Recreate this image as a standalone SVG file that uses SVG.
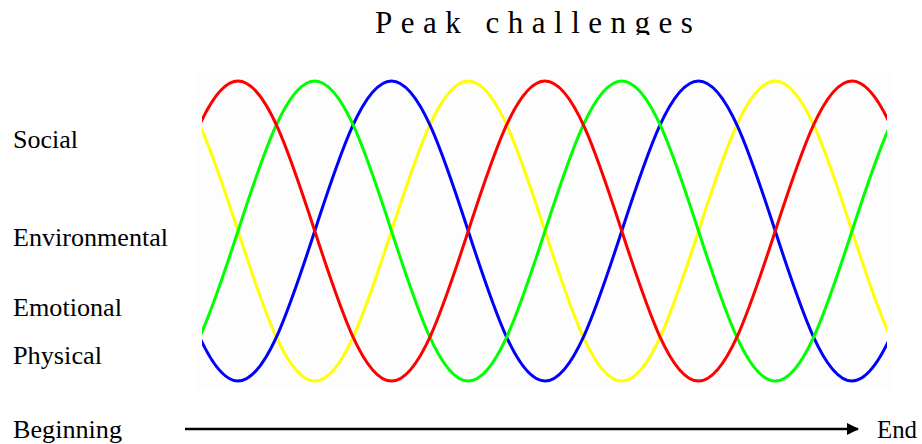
<svg xmlns="http://www.w3.org/2000/svg" xmlns:xlink="http://www.w3.org/1999/xlink" width="922" height="444" viewBox="0 0 922 444">
<style>
.lbl{font-family:"Liberation Serif","Times New Roman",serif;font-size:25px;fill:#000}
.title{font-family:"Liberation Serif","Times New Roman",serif;font-size:31px;letter-spacing:8.5px;fill:#000}
.wave{fill:none;stroke-width:3}
</style>
<defs>
<clipPath id="titleClip"><rect x="0" y="0" width="922" height="35"/></clipPath>
<clipPath id="plotClip"><rect x="202" y="60" width="685" height="340"/></clipPath>
<path id="wave" d="M0,81 c27.62,0 51.09,71.23 76.75,150 c25.66,78.77 49.13,150 76.75,150 c27.62,0 51.09,-71.23 76.75,-150 c25.66,-78.77 49.13,-150 76.75,-150 c27.62,0 51.09,71.23 76.75,150 c25.66,78.77 49.13,150 76.75,150 c27.62,0 51.09,-71.23 76.75,-150 c25.66,-78.77 49.13,-150 76.75,-150 c27.62,0 51.09,71.23 76.75,150 c25.66,78.77 49.13,150 76.75,150 c27.62,0 51.09,-71.23 76.75,-150 c25.66,-78.77 49.13,-150 76.75,-150 c27.62,0 51.09,71.23 76.75,150 c25.66,78.77 49.13,150 76.75,150 c27.62,0 51.09,-71.23 76.75,-150 c25.66,-78.77 49.13,-150 76.75,-150"/>
<marker id="arrow" markerWidth="12" markerHeight="12" refX="11" refY="6" orient="auto" markerUnits="userSpaceOnUse">
<path d="M0,0 L12,6 L0,12 Z" fill="#000"/>
</marker>
</defs>
<rect width="922" height="444" fill="#fff"/>
<g id="title" clip-path="url(#titleClip)">
<text class="title" x="375" y="33">Peak challenges</text>
</g>
<rect id="plot-bg" x="197" y="72" width="696" height="318" fill="#fdfdfd"/>
<g id="labels">
<g id="social"><text class="lbl" x="13" y="148" textLength="65" lengthAdjust="spacingAndGlyphs">Social</text></g>
<g id="environmental"><text class="lbl" x="13" y="246" textLength="155" lengthAdjust="spacingAndGlyphs">Environmental</text></g>
<g id="emotional"><text class="lbl" x="13" y="316" textLength="109" lengthAdjust="spacingAndGlyphs">Emotional</text></g>
<g id="physical"><text class="lbl" x="13" y="364" textLength="89" lengthAdjust="spacingAndGlyphs">Physical</text></g>
<g id="beginning"><text class="lbl" x="13" y="438" textLength="109" lengthAdjust="spacingAndGlyphs">Beginning</text></g>
<g id="end"><text class="lbl" x="877" y="438" textLength="40" lengthAdjust="spacingAndGlyphs">End</text></g>
</g>
<g id="waves" clip-path="url(#plotClip)">
<g id="wave-yellow"><use xlink:href="#wave" href="#wave" class="wave" stroke="#ffff00" transform="translate(161.25,0)"/></g>
<g id="wave-blue"><use xlink:href="#wave" href="#wave" class="wave" stroke="#0000ff" transform="translate(84.5,0)"/></g>
<g id="wave-green"><use xlink:href="#wave" href="#wave" class="wave" stroke="#00ff00" transform="translate(7.75,0)"/></g>
<g id="wave-red"><use xlink:href="#wave" href="#wave" class="wave" stroke="#ff0000" transform="translate(-69,0)"/></g>
</g>
<g id="connectors">
<line x1="185" y1="429" x2="858" y2="429" stroke="#000" stroke-width="2.5" marker-end="url(#arrow)"/>
</g>
</svg>
